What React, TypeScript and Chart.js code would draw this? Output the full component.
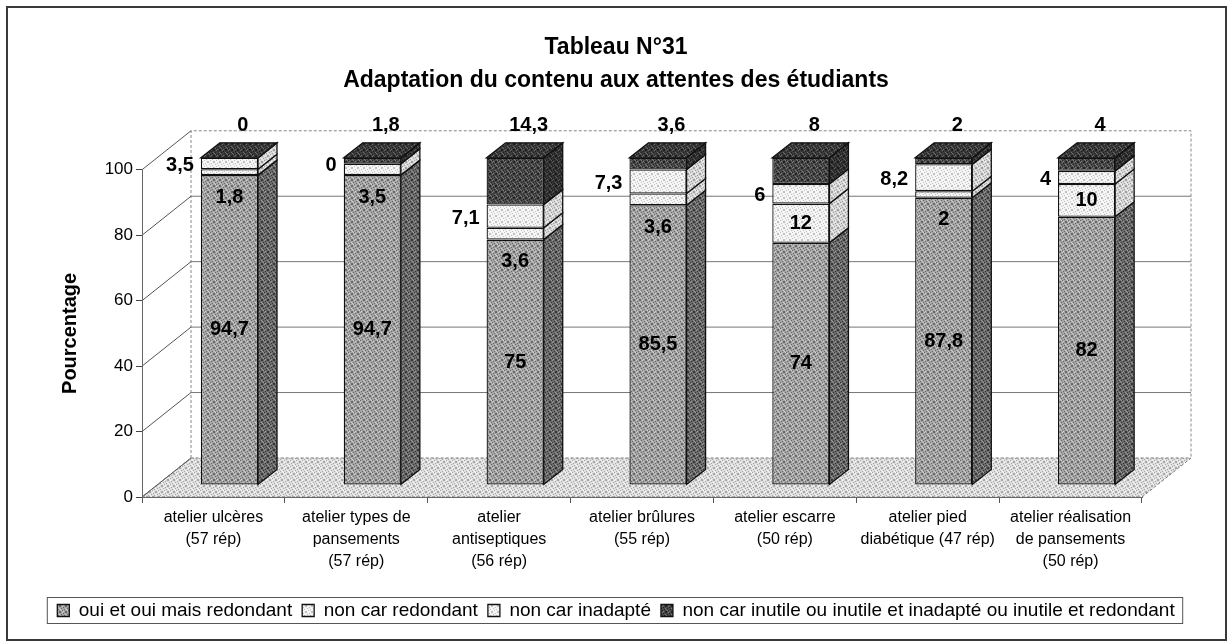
import React, { useEffect, useRef } from 'react';
import { Chart, registerables } from 'chart.js';

Chart.register(...registerables);

const categories: string[][] = [
  ['atelier ulcères', '(57 rép)'],
  ['atelier types de', 'pansements', '(57 rép)'],
  ['atelier', 'antiseptiques', '(56 rép)'],
  ['atelier brûlures', '(55 rép)'],
  ['atelier escarre', '(50 rép)'],
  ['atelier pied', 'diabétique (47 rép)'],
  ['atelier réalisation', 'de pansements', '(50 rép)'],
];
const seriesNames = [
  'oui et oui mais redondant',
  'non car redondant',
  'non car inadapté',
  'non car inutile ou inutile et inadapté ou inutile et redondant',
];
const ouiValues = [94.7, 94.7, 75, 85.5, 74, 87.8, 82];
const redondantValues = [1.8, 3.5, 3.6, 3.6, 12, 2, 10];
const inadapteValues = [3.5, 0, 7.1, 7.3, 6, 8.2, 4];
const inutileValues = [0, 1.8, 14.3, 3.6, 8, 2, 4];
const yTicks = [0, 20, 40, 60, 80, 100];

const FONT = 'Arial, "Liberation Sans", Helvetica, sans-serif';
// 3D geometry (pixels)
const OX = 16, OY = -12; // bar plane offset from front plane
const DX = 19, DY = 15; // bar depth
const WX = 49, WY = -39; // back wall offset

function makePattern(ctx: CanvasRenderingContext2D, base: string, dark: string, light: string) {
  const c = document.createElement('canvas');
  c.width = 6; c.height = 6;
  const g = c.getContext('2d')!;
  g.fillStyle = base; g.fillRect(0, 0, 6, 6);
  g.fillStyle = dark;
  [[0, 0], [3, 1], [1, 2], [4, 3], [2, 4], [5, 5], [0, 5], [5, 0]].forEach(([x, y]) => g.fillRect(x, y, 1, 1));
  g.fillStyle = light;
  [[2, 0], [5, 2], [0, 3], [3, 5], [1, 4]].forEach(([x, y]) => g.fillRect(x, y, 1, 1));
  return ctx.createPattern(c, 'repeat') as CanvasPattern;
}

const fmt = (v: number) => String(v).replace('.', ',');

export default function App() {
  const ref = useRef<HTMLCanvasElement>(null);
  useEffect(() => {
    const canvas = ref.current!;
    const ctx = canvas.getContext('2d')!;
    const front = [
      makePattern(ctx, '#a4a4a4', '#6a6a6a', '#d0d0d0'),
      makePattern(ctx, '#f3f3f3', '#c2c2c2', '#ffffff'),
      makePattern(ctx, '#f3f3f3', '#c2c2c2', '#ffffff'),
      makePattern(ctx, '#4a4a4a', '#242424', '#7a7a7a'),
    ];
    const side = [
      makePattern(ctx, '#6a6a6a', '#383838', '#9a9a9a'),
      makePattern(ctx, '#d6d6d6', '#a0a0a0', '#f2f2f2'),
      makePattern(ctx, '#d6d6d6', '#a0a0a0', '#f2f2f2'),
      makePattern(ctx, '#333333', '#1a1a1a', '#5a5a5a'),
    ];
    const topFace = makePattern(ctx, '#3c3c3c', '#1e1e1e', '#6a6a6a');
    const floor = makePattern(ctx, '#dedede', '#a8a8a8', '#f6f6f6');

    const threeD = {
      id: 'threeD',
      beforeDraw(chart: any) {
        const { ctx: c, chartArea: a, scales } = chart;
        const y = scales.y;
        c.save();
        c.fillStyle = '#fff';
        c.fillRect(0, 0, chart.width, chart.height);
        c.strokeStyle = '#3a3a3a';
        c.lineWidth = 2;
        c.strokeRect(7, 7, 1219, 633);
        const y0 = y.getPixelForValue(0);
        const y100 = y.getPixelForValue(100);
        // floor
        c.beginPath();
        c.moveTo(a.left, y0);
        c.lineTo(a.right, y0);
        c.lineTo(a.right + WX, y0 + WY);
        c.lineTo(a.left + WX, y0 + WY);
        c.closePath();
        c.fillStyle = floor;
        c.fill();
        c.lineWidth = 1;
        c.strokeStyle = '#777';
        c.setLineDash([3, 2]);
        c.stroke();
        // back wall edges
        c.beginPath();
        c.moveTo(a.left + WX, y0 + WY);
        c.lineTo(a.left + WX, y100 + WY);
        c.lineTo(a.right + WX, y100 + WY);
        c.lineTo(a.right + WX, y0 + WY);
        c.strokeStyle = '#888';
        c.stroke();
        c.setLineDash([]);
        // grid lines on wall + diagonals on left side
        y.ticks.forEach((t: any) => {
          const py = y.getPixelForValue(t.value);
          c.beginPath();
          c.moveTo(a.left, py);
          c.lineTo(a.left + WX, py + WY);
          c.strokeStyle = '#555';
          c.stroke();
          if (t.value > 0 && t.value < 100) {
            c.beginPath();
            c.moveTo(a.left + WX, py + WY);
            c.lineTo(a.right + WX, py + WY);
            c.strokeStyle = '#777';
            c.stroke();
          }
        });
        c.restore();
      },
      beforeDatasetsDraw(chart: any) {
        chart.ctx.save();
        chart.ctx.translate(OX, OY);
      },
      afterDatasetsDraw(chart: any) {
        const c = chart.ctx;
        c.lineWidth = 1.3;
        c.strokeStyle = '#111';
        chart.data.datasets.forEach((ds: any, i: number) => {
          const meta = chart.getDatasetMeta(i);
          meta.data.forEach((el: any) => {
            const { x, y, base, width } = el.getProps(['x', 'y', 'base', 'width'], true);
            const l = x - width / 2, r = x + width / 2;
            const top = Math.min(y, base), bot = Math.max(y, base);
            c.beginPath();
            c.moveTo(r, top);
            c.lineTo(r + DX, top - DY);
            c.lineTo(r + DX, bot - DY);
            c.lineTo(r, bot);
            c.closePath();
            c.fillStyle = side[i];
            c.fill();
            c.stroke();
            if (i === chart.data.datasets.length - 1) {
              c.beginPath();
              c.moveTo(l, top);
              c.lineTo(l + DX, top - DY);
              c.lineTo(r + DX, top - DY);
              c.lineTo(r, top);
              c.closePath();
              c.fillStyle = topFace;
              c.fill();
              c.stroke();
            }
          });
        });
        c.restore();
      },
      afterDraw(chart: any) {
        const c = chart.ctx;
        c.save();
        c.font = `bold 20px ${FONT}`;
        c.fillStyle = '#000';
        c.textBaseline = 'middle';
        chart.data.datasets.forEach((ds: any, i: number) => {
          const meta = chart.getDatasetMeta(i);
          meta.data.forEach((el: any, j: number) => {
            const { x, y, base, width } = el.getProps(['x', 'y', 'base', 'width'], true);
            const v = ds.data[j];
            const top = Math.min(y, base) + OY, bot = Math.max(y, base) + OY;
            const mid = (top + bot) / 2;
            const bx = x + OX;
            let tx = bx, ty = mid;
            c.textAlign = 'center';
            if (i === 1) {
              ty = bot - top < 25 ? bot + 22 : mid;
            } else if (i === 2) {
              c.textAlign = 'right';
              tx = bx - width / 2 - 7;
              ty = mid + 2;
            } else if (i === 3) {
              tx = bx + DX / 2 + 4;
              ty = top - DY - 17;
            }
            c.fillText(fmt(v), tx, ty);
          });
        });
        // legend frame
        const lg = chart.legend;
        if (lg && lg.legendHitBoxes && lg.legendHitBoxes.length) {
          const hb = lg.legendHitBoxes;
          const left = Math.min(...hb.map((h: any) => h.left)) - 10;
          const right = Math.max(...hb.map((h: any) => h.left + h.width)) + 8;
          const cy = hb[0].top + hb[0].height / 2;
          c.strokeStyle = '#555';
          c.lineWidth = 1;
          c.strokeRect(left, cy - 13, right - left, 26);
        }
        c.restore();
      },
    };

    const chart = new Chart(canvas, {
      type: 'bar',
      data: {
        labels: categories,
        datasets: [ouiValues, redondantValues, inadapteValues, inutileValues].map((d, i) => ({
          label: seriesNames[i],
          data: d,
          backgroundColor: front[i],
          borderColor: '#111',
          borderWidth: 1.3,
          borderSkipped: false,
          categoryPercentage: 1,
          barPercentage: 0.4,
          clip: false as any,
        })),
      },
      options: {
        responsive: false,
        animation: false,
        layout: { padding: { left: 0, right: 0, top: 0, bottom: 14 } },
        plugins: {
          tooltip: { enabled: false },
          title: {
            display: true,
            text: ['Tableau N°31', 'Adaptation du contenu aux attentes des étudiants'],
            color: '#000',
            font: { family: FONT, size: 23, weight: 'bold', lineHeight: 1.43 },
            padding: { top: 31, bottom: 73 },
          },
          legend: {
            position: 'bottom',
            labels: {
              color: '#000',
              font: { family: FONT, size: 19 },
              boxWidth: 12,
              boxHeight: 12,
              padding: 10,
            },
          },
        },
        scales: {
          x: {
            stacked: true,
            grid: { offset: true, drawOnChartArea: false, drawTicks: true, tickLength: 6, color: '#555' },
            border: { display: true, color: '#666', dash: [3, 2] },
            ticks: {
              color: '#000',
              font: { family: FONT, size: 16, lineHeight: 1.375 },
              maxRotation: 0,
              autoSkip: false,
              padding: 4,
            },
            afterFit: (s: any) => { s.height = 94; },
          },
          y: {
            stacked: true,
            min: 0,
            max: 100,
            afterBuildTicks: (s: any) => { s.ticks = yTicks.map((v) => ({ value: v })); },
            grid: { drawOnChartArea: false, drawTicks: true, tickLength: 6, color: '#444' },
            border: { display: true, color: '#666', dash: [3, 2] },
            ticks: { color: '#000', font: { family: FONT, size: 17 }, padding: 3 },
            title: {
              display: true,
              text: 'Pourcentage',
              color: '#000',
              font: { family: FONT, size: 20, weight: 'bold' },
              padding: { top: 58, bottom: 0 },
            },
            afterFit: (s: any) => { s.width = 142; },
          },
          y2: {
            type: 'linear',
            position: 'right',
            display: true,
            grid: { display: false },
            ticks: { display: false },
            border: { display: false },
            afterFit: (s: any) => { s.width = 90; },
          },
        },
      },
      plugins: [threeD],
    } as any);
    return () => chart.destroy();
  }, []);

  return (
    <div style={{ position: 'fixed', left: 0, top: 0, width: 1232, height: 644, background: '#fff' }}>
      <canvas ref={ref} width={1232} height={644} style={{ width: 1232, height: 644, display: 'block' }} />
    </div>
  );
}
